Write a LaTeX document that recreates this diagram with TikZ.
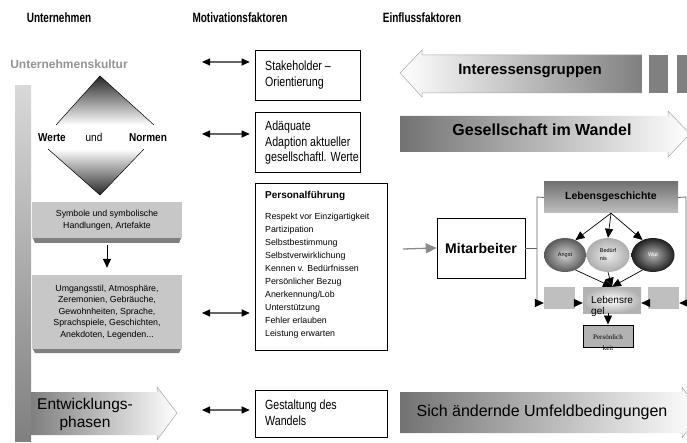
\documentclass[tikz,border=0pt]{standalone}
\usepackage{fontspec}
\setmainfont{Liberation Sans}
\newfontfamily\headfont[FakeStretch=0.74]{Liberation Sans}
\newfontfamily\narrowfont[FakeStretch=0.87]{Liberation Sans}
\newfontfamily\boxfont[FakeStretch=0.8]{Liberation Sans}
\newfontfamily\seriffont{Liberation Serif}
\usetikzlibrary{arrows.meta,shapes.geometric}
\begin{document}
\begin{tikzpicture}[x=1pt,y=-1pt,
  hdr/.style={font=\headfont\bfseries\fontsize{13.5}{15}\selectfont},
  dbl/.style={{Triangle[length=8pt,width=7pt,color=black]}-{Triangle[length=8pt,width=7pt,color=black]}, draw=black!60, line width=1.1pt},
  wbox/.style={draw=black, line width=0.6pt, fill=white, inner sep=0pt},
  wtext/.style={anchor=west, inner sep=0pt, align=left, font=\boxfont\fontsize{13.3}{15.5}\selectfont},
  gbox/.style={fill=black!22, inner sep=0pt, align=center},
  blk/.style={-{Triangle[length=9pt,width=8pt]}, black, line width=0.7pt},
  side/.style={draw=black!60, line width=0.8pt},
  sidearr/.style={side, -{Triangle[length=9pt,width=8pt,color=black]}},
  small/.style={fill=black!25, minimum width=31, minimum height=22, inner sep=0pt},
]
\useasboundingbox (0,0) rectangle (687,443);
\fill[white] (0,0) rectangle (687,443);

% headers
\node[hdr] (h1) at (59,18) {Unternehmen};
\node[hdr] (h2) at (240,18) {Motivationsfaktoren};
\node[hdr] (h3) at (422,18) {Einflussfaktoren};

% left column
\node[font=\bfseries\fontsize{12}{14}\selectfont, text=black!42] (uk) at (69,64) {Unternehmenskultur};
\shade[top color=black!15, bottom color=black!50] (15,86) rectangle (31,441);

% Entwicklungsphasen arrow
\shade[left color=black!50, right color=white] (31,392) -- (157,392) -- (157,387) -- (177,413) -- (157,440) -- (157,435) -- (31,435) -- cycle;
\draw[black!35, line width=0.5pt] (157,392) -- (157,387) -- (177,413) -- (157,440) -- (157,435);
\node[font=\fontsize{15.5}{18}\selectfont, align=center] (ep) at (85,414) {Entwicklungs-\\phasen};

% diamond
\shade[top color=black!85, bottom color=white] (100,76) -- (154,125) -- (56,125) -- cycle;
\draw[line width=0.5pt] (56,125) -- (100,76) -- (154,125);
\shade[top color=white, bottom color=black!85] (48,149) -- (144,149) -- (100,195) -- cycle;
\draw[line width=0.5pt] (48,149) -- (100,195) -- (144,149);
\node[anchor=base, font=\narrowfont\bfseries\fontsize{11.5}{13}\selectfont] (werte) at (52,142) {Werte};
\node[anchor=base, font=\narrowfont\fontsize{11.5}{13}\selectfont] (und) at (94,142) {und};
\node[anchor=base, font=\narrowfont\bfseries\fontsize{11.5}{13}\selectfont] (normen) at (148,142) {Normen};

% grey boxes
\fill[black!50] (32,236) -- (182,236) -- (179,243) -- (35,243) -- cycle;
\node[gbox, minimum width=150, minimum height=36, font=\fontsize{8.8}{12}\selectfont] (sym) at (107,220) {Symbole und symbolische\\Handlungen, Artefakte};
\fill[black!50] (32,347) -- (182,347) -- (179,353) -- (35,353) -- cycle;
\node[gbox, minimum width=150, minimum height=74, font=\fontsize{8.8}{11.6}\selectfont] (umg) at (107,312) {Umgangsstil, Atmosphäre,\\Zeremonien, Gebräuche,\\Gewohnheiten, Sprache,\\Sprachspiele, Geschichten,\\Anekdoten, Legenden...};
\draw[blk, shorten >=7pt] ([yshift=-7pt]sym.south) -- (umg.north);

% middle column
\node[wbox, minimum width=105, minimum height=50] (s1) at (307.5,75) {};
\node[wtext] (s1t) at (265,75) {Stakeholder –\\Orientierung};
\node[wbox, minimum width=105, minimum height=60] (s2) at (307.5,142) {};
\node[wtext] (s2t) at (265,143) {Adäquate\\Adaption aktueller\\gesellschaftl. Werte};
\node[wbox, minimum width=132, minimum height=167] (pf) at (321,266.5) {};
\node[anchor=north west, inner sep=0pt, align=left, font=\fontsize{8.8}{13}\selectfont] (pft) at (265,191.5) {{\bfseries\fontsize{10}{13}\selectfont Personalführung}\\[7.5pt]
Respekt vor Einzigartigkeit\\Partizipation\\Selbstbestimmung\\Selbstverwirklichung\\Kennen v. Bedürfnissen\\Persönlicher Bezug\\Anerkennung/Lob\\Unterstützung\\Fehler erlauben\\Leistung erwarten};
\node[wbox, minimum width=132, minimum height=47] (gw) at (321,413.5) {};
\node[wtext] (gwt) at (265,412.5) {Gestaltung des\\Wandels};

% double arrows
\coordinate (a1) at (202,62);
\coordinate (a2) at (202,134);
\coordinate (a3) at (202,313);
\coordinate (a4) at (202,410);
\draw[dbl, shorten >=5pt] (a1) -- (a1 -| s1.west);
\draw[dbl, shorten >=5pt] (a2) -- (a2 -| s2.west);
\draw[dbl, shorten >=5pt] (a3) -- (a3 -| pf.west);
\draw[dbl, shorten >=5pt] (a4) -- (a4 -| gw.west);

% right column: big arrows
\shade[left color=white, right color=black!50] (400,73) -- (422,50) -- (422,55) -- (642,55) -- (642,93) -- (422,93) -- (422,97) -- cycle;
\draw[black!35, line width=0.5pt] (642,55) -- (422,55) -- (422,50) -- (400,73) -- (422,97) -- (422,93) -- (642,93);
\fill[black!50] (649,55) rectangle (668,93);
\fill[black!50] (677,55) rectangle (687,93);
\node[font=\bfseries\fontsize{15}{17}\selectfont] (ig) at (530,71) {Interessensgruppen};

\shade[left color=black!55, right color=white] (400,116) -- (668,116) -- (668,111) -- (690,134) -- (668,157) -- (668,152) -- (400,152) -- cycle;
\draw[black!35, line width=0.5pt] (668,116) -- (668,111) -- (690,134) -- (668,157) -- (668,152);
\node[font=\bfseries\fontsize{16}{18}\selectfont] (gs) at (542,130) {Gesellschaft im Wandel};

\shade[left color=black!55, right color=white] (400,392) -- (682,392) -- (682,387) -- (700,413) -- (682,438) -- (682,433) -- (400,433) -- cycle;
\draw[black!35, line width=0.5pt] (682,392) -- (682,387) -- (700,413) -- (682,438) -- (682,433);
\node[font=\fontsize{16}{18}\selectfont] (su) at (542,412) {Sich ändernde Umfeldbedingungen};

% Mitarbeiter
\node[wbox, minimum width=88, minimum height=60, font=\bfseries\fontsize{14}{16}\selectfont] (mit) at (481,248) {Mitarbeiter};
\coordinate (ma) at (403,249);
\draw[black!45, line width=1.3pt, -{Triangle[length=11pt,width=10pt]}] (ma) -- (mit.west);

% Lebensgeschichte
\node[top color=black!55, bottom color=black!25, minimum width=134, minimum height=31, inner sep=0pt, font=\bfseries\fontsize{10.5}{12}\selectfont] (lg) at (611,197.5) {\raisebox{3pt}{Lebensgeschichte}};

\node[ellipse, minimum width=42, minimum height=34, inner sep=0pt, inner color=black!18, outer color=black!65, font=\fontsize{5.5}{6}\selectfont] (angst) at (565,255) {\raisebox{-4pt}{Angst}};
\node[ellipse, minimum width=43, minimum height=34, inner sep=0pt, inner color=black!8, outer color=black!32, align=left, font=\fontsize{5.5}{8}\selectfont] (bed) at (608,255) {Bedürf\\nis};
\node[ellipse, minimum width=43, minimum height=34, inner sep=0pt, inner color=black!30, outer color=black!88, text=white, font=\fontsize{5.5}{6}\selectfont] (wut) at (653,255) {Wut};

\node[small] (lb) at (559.5,298) {};
\node[inner color=white, outer color=black!30, minimum width=58, minimum height=26, inner sep=0pt] (lr) at (612,300) {};
\node[anchor=west, align=left, inner sep=0pt, font=\fontsize{10}{11}\selectfont] (lrt) at (591,306) {Lebensre\\gel};
\node[small] (rb) at (663.5,298) {};

\node[draw=black, line width=1pt, fill=black!30, minimum width=50, minimum height=22, inner sep=0pt] (pk) at (608,336) {};
\begin{scope}
\clip (580,324) rectangle (640,349.5);
\node[align=center, inner sep=0pt, font=\seriffont\fontsize{7}{11}\selectfont] (pkt) at (608,342.5) {Persönlich\\keit};
\end{scope}

% connectors
\coordinate (lv) at (537,197);
\coordinate (lvb) at (537,303);
\coordinate (rv) at (686,197);
\coordinate (rvb) at (686,303);
\draw[sidearr] (lg.west) -- (lv) -- (lvb) -- (lvb -| lb.west);
\draw[sidearr] (lg.east) -- (rv) -- (rvb) -- (rvb -| rb.east);
\draw[side] (mit.east) -- (mit.east -| lv);

\draw[blk] (lg.south) -- (angst.55);
\draw[blk] (lg.south) -- (bed.north);
\draw[blk] (lg.south) -- (wut.125);
\draw[blk] (angst.-55) -- (lr.north);
\draw[blk] (bed.south) -- (lr.north);
\draw[blk] (wut.-125) -- (lr.north);
\draw[blk] (lb.east |- lvb) -- (lr.west |- lvb);
\draw[blk] (rb.west |- rvb) -- (lr.east |- rvb);
\draw[blk] (pk.north |- lr.south) -- (pk.north);
\end{tikzpicture}
\end{document}
